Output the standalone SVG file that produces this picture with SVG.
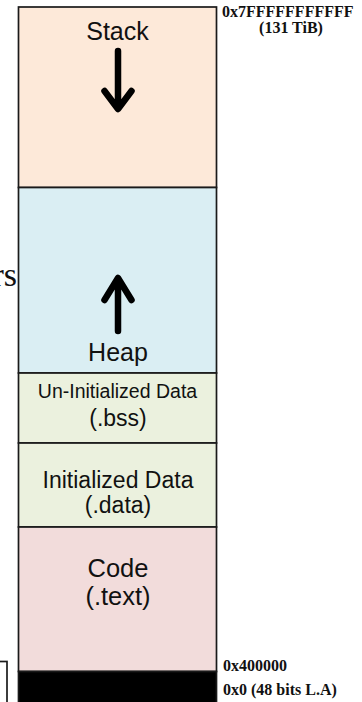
<svg xmlns="http://www.w3.org/2000/svg" width="362" height="702" viewBox="0 0 362 702">
  <style>
    .seg { stroke: #1a1a1a; stroke-width: 1.7; }
    .lbl { font-family: "Liberation Sans", Arial, sans-serif; fill: #111; text-anchor: middle; }
    .addr { font-family: "Liberation Serif", "Times New Roman", serif; font-weight: bold; font-size: 16px; fill: #111; }
    .side { font-family: "Liberation Serif", "Times New Roman", serif; font-size: 34px; fill: #111; text-anchor: end; }
    .arrow { fill: none; stroke: #000; stroke-width: 6.5; stroke-linecap: round; stroke-linejoin: round; }
  </style>
  <rect width="362" height="702" fill="#ffffff"/>

  <text x="17" y="286" class="side">rs</text>

  <g id="legend-box">
    <rect x="-5" y="661.5" width="12" height="50" fill="#ffffff" class="seg"/>
  </g>

  <g id="stack">
    <rect x="18.5" y="7" width="198" height="180.5" fill="#FDE9D9" class="seg"/>
    <text x="117.5" y="40" class="lbl" font-size="25">Stack</text>
    <path class="arrow" d="M118 51 V108 M104.5 91 L118 109 L131.5 91"/>
  </g>

  <g id="heap">
    <rect x="18.5" y="187.5" width="198" height="185.5" fill="#DAEEF3" class="seg"/>
    <path class="arrow" d="M118 331 V279 M104.5 300 L118 278 L131.5 300"/>
    <text x="118" y="361" class="lbl" font-size="25">Heap</text>
  </g>

  <g id="bss">
    <rect x="18.5" y="373" width="198" height="70" fill="#EBF1DE" class="seg"/>
    <text x="117.5" y="398" class="lbl" font-size="19.5">Un-Initialized Data</text>
    <text x="118" y="426" class="lbl" font-size="23">(.bss)</text>
  </g>

  <g id="data">
    <rect x="18.5" y="443" width="198" height="84" fill="#EBF1DE" class="seg"/>
    <text x="118" y="488" class="lbl" font-size="23">Initialized Data</text>
    <text x="118" y="513" class="lbl" font-size="23">(.data)</text>
  </g>

  <g id="code">
    <rect x="18.5" y="527" width="198" height="144.5" fill="#F2DCDB" class="seg"/>
    <text x="118" y="577" class="lbl" font-size="25.5">Code</text>
    <text x="118" y="605" class="lbl" font-size="25.5">(.text)</text>
  </g>

  <g id="reserved">
    <rect x="18.5" y="671.5" width="198" height="32" fill="#000000" class="seg"/>
  </g>

  <g id="addresses">
    <text x="222" y="17" class="addr">0x7FFFFFFFFFFF</text>
    <text x="291" y="33" class="addr" text-anchor="middle">(131 TiB)</text>
    <text x="223" y="671" class="addr">0x400000</text>
    <text x="223" y="695" class="addr">0x0 (48 bits L.A)</text>
  </g>

  <g id="connectors"></g>
</svg>
